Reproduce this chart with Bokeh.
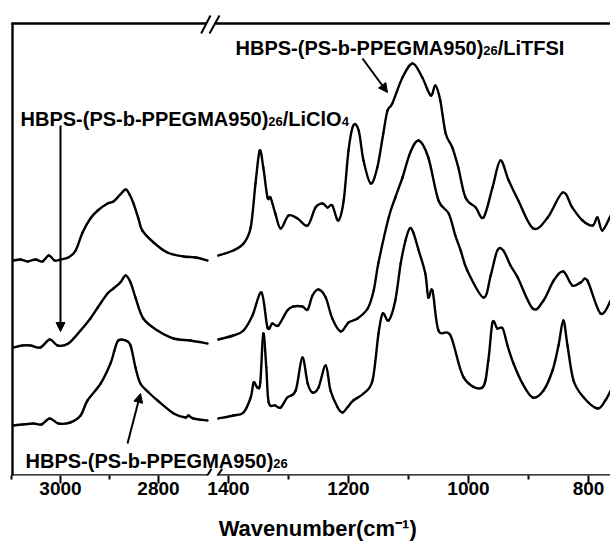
import numpy as np
from bokeh.plotting import figure
from bokeh.models import Range1d, FixedTicker, Label, Arrow, NormalHead
from bokeh.embed import file_html
from bokeh.resources import INLINE

# ---------------- data (intensities in arbitrary, offset units) -------------
# HBPS-(PS-b-PPEGMA950)26/LiTFSI  (top trace)
tfsi_hi_wn = [3096, 3082, 3067, 3051, 3037, 3024, 3012, 3000, 2984, 2969, 2955, 2939, 2924, 2904,
              2892, 2878, 2867, 2859, 2851, 2841, 2833, 2810, 2782, 2749, 2724, 2700]
tfsi_hi_a = [215, 216, 214, 216, 214, 220, 215, 216, 218, 225, 243, 257, 265, 272,
             274, 281, 286, 281, 272, 257, 245, 233, 223, 219, 218, 215]
tfsi_lo_wn = [1417, 1392, 1375, 1363, 1355, 1348, 1342, 1335, 1330, 1322, 1313, 1300, 1285, 1268,
              1255, 1243, 1235, 1227, 1217, 1208, 1200, 1192, 1183, 1175, 1163, 1152, 1142, 1135,
              1127, 1110, 1093, 1077, 1063, 1055, 1047, 1038, 1027, 1017, 1005, 988, 975, 960,
              947, 933, 917, 892, 868, 843, 827, 810, 793, 785, 777, 763]
tfsi_lo_a = [220, 225, 232, 248, 292, 325, 308, 278, 278, 262, 247, 260, 257, 250,
             268, 272, 268, 270, 255, 275, 325, 350, 345, 315, 292, 308, 342, 365,
             372, 398, 412, 398, 380, 390, 375, 342, 328, 308, 278, 268, 258, 288,
             315, 295, 275, 247, 258, 283, 268, 255, 250, 258, 245, 260]

# HBPS-(PS-b-PPEGMA950)26/LiClO4  (middle trace)
clo4_hi_wn = [3096, 3078, 3061, 3041, 3022, 3006, 2984, 2959, 2939, 2924, 2904, 2892, 2878, 2867,
              2857, 2847, 2831, 2802, 2769, 2735, 2700]
clo4_hi_a = [128, 130, 130, 128, 136, 130, 132, 145, 157, 168, 182, 187, 193, 200,
             193, 178, 157, 145, 137, 135, 132]
clo4_lo_wn = [1417, 1392, 1375, 1360, 1345, 1335, 1327, 1317, 1302, 1292, 1277, 1268, 1260, 1250,
              1238, 1227, 1213, 1200, 1185, 1168, 1158, 1150, 1133, 1122, 1110, 1097, 1083, 1067,
              1050, 1033, 1022, 1013, 1002, 975, 963, 952, 942, 930, 918, 893, 875, 858,
              842, 827, 813, 802, 780, 763]
clo4_lo_a = [136, 140, 145, 160, 183, 148, 152, 150, 165, 169, 169, 166, 180, 186,
             178, 157, 144, 153, 157, 167, 185, 213, 258, 278, 298, 323, 335, 318,
             275, 262, 240, 225, 205, 178, 200, 225, 225, 210, 198, 167, 175, 195,
             204, 190, 193, 195, 162, 175]

# HBPS-(PS-b-PPEGMA950)26  (bottom trace)
neat_hi_wn = [3096, 3078, 3055, 3039, 3022, 3004, 2980, 2959, 2945, 2918, 2898, 2890, 2882, 2867,
              2857, 2847, 2837, 2820, 2802, 2769, 2745, 2739, 2729, 2700]
neat_hi_a = [50, 51, 52, 51, 57, 52, 53, 60, 75, 92, 112, 125, 135, 135,
             130, 108, 92, 83, 75, 62, 58, 60, 57, 55]
neat_lo_wn = [1417, 1392, 1375, 1363, 1358, 1352, 1347, 1342, 1337, 1333, 1322, 1313, 1302, 1288,
              1277, 1268, 1260, 1250, 1238, 1230, 1218, 1210, 1202, 1192, 1175, 1160, 1150, 1143,
              1133, 1122, 1113, 1105, 1098, 1092, 1083, 1072, 1067, 1060, 1050, 1030, 1008, 977,
              967, 960, 952, 943, 935, 925, 910, 893, 875, 860, 850, 842, 835, 825,
              808, 785, 772, 763]
neat_lo_a = [57, 60, 63, 78, 93, 88, 93, 142, 108, 73, 70, 68, 78, 85,
             118, 92, 83, 88, 110, 85, 68, 63, 68, 75, 82, 95, 142, 162,
             155, 175, 212, 235, 247, 243, 225, 202, 178, 185, 145, 140, 98, 88,
             115, 153, 147, 147, 130, 112, 92, 78, 85, 105, 130, 155, 130, 95,
             78, 67, 75, 85]

major_wn = [3000, 2800, 1400, 1200, 1000, 800]
minor_wn = [3100, 2900, 1300, 1100, 900]


# ---------------- broken wavenumber axis: two linear pieces ----------------
def bx(w):
    w = np.asarray(w, dtype=float)
    return np.where(w >= 2000, 60 + (3000 - w) * 0.49, 228 + (1400 - w) * 0.6)


p = figure(width=610, height=547, x_range=Range1d(0, 610), y_range=Range1d(0, 475),
           output_backend="svg", toolbar_location=None, y_axis_location=None,
           min_border_left=0, min_border_right=0, min_border_top=0, min_border_bottom=72)
p.grid.visible = False
p.outline_line_color = None
p.background_fill_color = "white"
p.border_fill_color = "white"


def smooth_trace(wn, a):
    """Draw the trace as a smooth curve through the read points (Catmull-Rom as Bezier pieces)."""
    P = np.column_stack([bx(wn), np.asarray(a, dtype=float)])
    n = len(P)
    Pm = np.vstack([P[0], P, P[-1]])
    c0 = P[:-1] + (Pm[2:n + 1] - Pm[0:n - 1]) / 6.0
    c1 = P[1:] - (Pm[3:n + 2] - Pm[1:n]) / 6.0
    lo = np.minimum(P[:-1, 0], P[1:, 0])
    hi = np.maximum(P[:-1, 0], P[1:, 0])
    c0[:, 0] = np.clip(c0[:, 0], lo, hi)
    c1[:, 0] = np.clip(c1[:, 0], lo, hi)
    p.bezier(x0=P[:-1, 0], y0=P[:-1, 1], x1=P[1:, 0], y1=P[1:, 1],
             cx0=c0[:, 0], cy0=c0[:, 1], cx1=c1[:, 0], cy1=c1[:, 1],
             line_color="black", line_width=2.4, line_cap="round")


for wn, a in [(tfsi_hi_wn, tfsi_hi_a), (tfsi_lo_wn, tfsi_lo_a),
              (clo4_hi_wn, clo4_hi_a), (clo4_lo_wn, clo4_lo_a),
              (neat_hi_wn, neat_hi_a), (neat_lo_wn, neat_lo_a)]:
    smooth_trace(wn, a)

tick_pos = [int(round(float(bx(w)))) for w in major_wn]
minor_pos = [int(round(float(bx(w)))) for w in minor_wn]
ax = p.xaxis[0]
ax.ticker = FixedTicker(ticks=tick_pos, minor_ticks=minor_pos)
ax.major_label_overrides = {pos: str(w) for pos, w in zip(tick_pos, major_wn)}
ax.axis_line_color = None
ax.major_tick_line_width = 2
ax.major_tick_line_color = "black"
ax.major_tick_out = 8
ax.major_tick_in = 0
ax.minor_tick_line_width = 2
ax.minor_tick_line_color = "black"
ax.minor_tick_out = 4
ax.minor_tick_in = 0
ax.major_label_text_font = "Liberation Sans"
ax.major_label_text_font_style = "bold"
ax.major_label_text_font_size = "19px"
ax.major_label_text_color = "black"
ax.major_label_standoff = -2
ax.axis_label = "\u00a0\u00a0\u00a0\u00a0Wavenumber(cm\u207b\u00b9)"
ax.axis_label_text_font = "Liberation Sans"
ax.axis_label_text_font_style = "bold"
ax.axis_label_text_font_size = "22px"
ax.axis_label_text_color = "black"
ax.axis_label_standoff = 18


def seg(x0, y0, x1, y1, w=2.4):
    p.add_layout(Arrow(x_start=x0, y_start=y0, x_end=x1, y_end=y1, start=None, end=None,
                       line_color="black", line_width=w))


# frame: left border, top border and bottom axis line with break gaps
seg(12, -0.5, 12, 452.5)
seg(10.8, 452, 206, 452)
seg(214, 452, 610, 452)
seg(10.8, 0, 207, 0)
seg(217, 0, 610, 0)
# break marks "//"
seg(200.7, 442, 210, 460, 2)
seg(209, 442, 219, 460, 2)
seg(201.7, -8.3, 211, 6.7, 2)
seg(211.7, -8.3, 221.7, 6.7, 2)

# arrows
for (x0, y0, x1, y1) in [(362, 417, 387, 383), (60, 350, 60, 144), (127, 32, 140, 82)]:
    p.add_layout(Arrow(x_start=x0, y_start=y0, x_end=x1, y_end=y1, line_color="black",
                       line_width=2, end=NormalHead(size=9, fill_color="black",
                                                    line_color="black", line_width=1)))

# Liberation Sans Bold advance widths (per 1000 em)
ADV = {'H': 722, 'B': 722, 'P': 667, 'S': 667, '-': 333, '(': 333, ')': 333, 'b': 611, 'E': 667,
       'G': 778, 'M': 833, 'A': 722, '0': 556, '1': 556, '2': 556, '4': 556, '5': 556, '6': 556,
       '9': 556, '/': 278, 'L': 611, 'i': 278, 'T': 611, 'F': 611, 'I': 278, 'C': 722, 'l': 278,
       'O': 778}


def compose(x, y, pieces):
    for txt, size, dy in pieces:
        p.add_layout(Label(x=x, y=y + dy, text=txt, text_font="Liberation Sans",
                           text_font_style="bold", text_font_size=f"{size}px",
                           text_baseline="alphabetic", text_align="left", text_color="black"))
        x += sum(ADV.get(c, 556) for c in txt) * size / 1000.0


compose(235, 428, [("HBPS-(PS-b-PPEGMA950)", 20, 0), ("26", 13, -3), ("/LiTFSI", 20, 0)])
compose(20, 357, [("HBPS-(PS-b-PPEGMA950)", 20, 0), ("26", 13, -3), ("/LiClO", 20, 0), ("4", 13, -3)])
compose(25, 15, [("HBPS-(PS-b-PPEGMA950)", 20, 0), ("26", 13, -3)])

open("out.html", "w").write(file_html(p, INLINE))
